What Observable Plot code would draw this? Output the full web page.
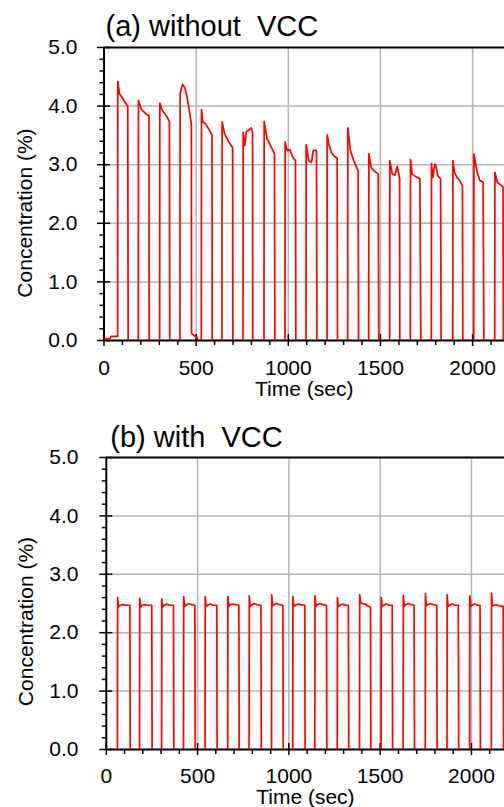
<!DOCTYPE html>
<html><head><meta charset="utf-8">
<script src="https://cdn.jsdelivr.net/npm/d3@7"></script>
<script src="https://cdn.jsdelivr.net/npm/@observablehq/plot@0.6"></script>
<style>
html,body{margin:0;padding:0;background:#fff;}
#wrap{position:relative;width:504px;height:807px;overflow:hidden;background:#fff;}
#wrap svg{position:absolute;left:0;}
</style></head><body><div id="wrap"></div>
<script>
// Panel (a) without VCC: time (sec) and concentration (%)
const timeA = [0,35,38,74,75,84,120,129,131,
 186,187,203,234,244,245,
 302,303,316,343,355,357,
 412,413,426,438,451,460,471,474,475,490,505,510,
 528,529,536,551,572,586,587,
 640,641,654,677,698,699,
 754,755,764,773,786,799,806,807,
 868,869,885,903,925,927,
 982,983,994,1008,1024,1039,1041,
 1096,1097,1111,1126,1135,1148,1153,1155,
 1210,1211,1220,1234,1247,1265,1267,
 1322,1323,1337,1355,1374,1379,1381,
 1436,1437,1450,1468,1488,1491,
 1550,1551,1564,1578,1591,1596,1604,1605,
 1662,1663,1672,1690,1714,1719,
 1776,1777,1784,1795,1800,1811,1826,1829,
 1892,1893,1902,1916,1930,1945,1947,
 2006,2007,2025,2039,2057,2061,
 2120,2121,2134,2151,2165,2167];
const concA = [0.03,0.03,0.07,0.07,4.42,4.21,4.04,3.99,0,
 0,4.10,3.94,3.85,3.84,0,
 0,4.05,3.93,3.81,3.73,0,
 0,4.21,4.37,4.32,4.15,3.98,3.76,3.70,0.12,0.08,0.05,0,
 0,3.94,3.73,3.70,3.59,3.50,0,
 0,3.73,3.53,3.39,3.29,0,
 0,3.55,3.33,3.57,3.59,3.63,3.56,0,
 0,3.74,3.44,3.33,3.19,0,
 0,3.39,3.24,3.26,3.13,3.07,0,
 0,3.34,3.07,3.04,3.24,3.25,3.23,0,
 0,3.51,3.35,3.21,3.15,3.11,0,
 0,3.63,3.24,3.07,2.93,2.89,0,
 0,3.19,2.95,2.89,2.84,0,
 0,3.07,2.84,2.82,2.97,2.90,2.76,0,
 0,3.09,2.84,2.80,2.76,0,
 0,3.02,2.78,3.01,2.99,2.81,2.76,0,
 0,3.07,2.87,2.78,2.73,2.64,0,
 0,3.18,2.87,2.73,2.70,0,
 0,2.87,2.70,2.66,2.62,0];

// Panel (b) with VCC
const timeB = [0,61,62,67,75,90,105,129,131,
 182,183,188,196,211,226,249,251,
 303,304,309,317,332,347,368,370,
 423,424,429,437,452,467,485,487,
 541,542,547,555,570,585,605,607,
 665,666,671,679,694,709,726,728,
 782,783,788,796,811,826,847,849,
 905,906,911,919,934,949,967,969,
 1021,1022,1027,1035,1050,1065,1087,1089,
 1142,1143,1148,1156,1171,1186,1206,1208,
 1265,1266,1271,1279,1294,1309,1326,1328,
 1387,1388,1393,1401,1416,1431,1447,1449,
 1505,1506,1511,1519,1534,1549,1566,1568,
 1626,1627,1632,1640,1655,1670,1686,1688,
 1747,1748,1753,1761,1776,1791,1810,1812,
 1866,1867,1872,1880,1895,1910,1928,1930,
 1990,1991,1996,2004,2019,2034,2047,2049,
 2109,2110,2115,2123,2138,2153,2174,2176];
const concB = [0,0,2.60,2.44,2.47,2.48,2.47,2.47,0,
 0,2.59,2.44,2.47,2.48,2.47,2.47,0,
 0,2.58,2.44,2.47,2.49,2.47,2.47,0,
 0,2.62,2.45,2.47,2.50,2.48,2.47,0,
 0,2.62,2.45,2.47,2.49,2.47,2.47,0,
 0,2.62,2.45,2.48,2.49,2.48,2.47,0,
 0,2.63,2.45,2.47,2.50,2.48,2.47,0,
 0,2.65,2.46,2.48,2.50,2.48,2.47,0,
 0,2.62,2.45,2.47,2.49,2.48,2.47,0,
 0,2.63,2.45,2.48,2.50,2.48,2.47,0,
 0,2.60,2.45,2.47,2.49,2.47,2.47,0,
 0,2.65,2.52,2.50,2.49,2.46,2.44,0,
 0,2.60,2.45,2.47,2.49,2.47,2.47,0,
 0,2.64,2.45,2.48,2.50,2.48,2.47,0,
 0,2.67,2.46,2.48,2.50,2.48,2.47,0,
 0,2.65,2.45,2.47,2.49,2.47,2.47,0,
 0,2.63,2.45,2.47,2.49,2.47,2.47,0,
 0,2.68,2.46,2.47,2.48,2.46,2.45,0];

const yMajorTicks = [0,1,2,3,4,5];
const yMinorTicks = [0.2,0.4,0.6,0.8,1.2,1.4,1.6,1.8,2.2,2.4,2.6,2.8,3.2,3.4,3.6,3.8,4.2,4.4,4.6,4.8];
const xMajorTicks = [0,500,1000,1500,2000];
const xMinorTicks = [100,200,300,400,600,700,800,900,1100,1200,1300,1400,1600,1700,1800,1900,2100];
const xGridTicks = [500,1000,1500,2000];
const yGridTicks = [1,2,3,4];
const titleA = "(a) without  VCC";
const titleB = "(b) with  VCC";
const xLabel = "Time (sec)";
const yLabel = "Concentration (%)";

const FONT = "'Liberation Sans', Arial, Helvetica, sans-serif";

function panel(o) {
  const svg = Plot.plot({
    width: 504,
    height: o.height,
    marginLeft: o.mLeft,
    marginRight: 0,
    marginTop: o.mTop,
    marginBottom: o.mBottom,
    x: {domain: [0, o.xMax], axis: null},
    y: {domain: [0, 5], axis: null},
    style: {fontFamily: FONT, fontSize: "21px", color: "black", background: "transparent", overflow: "visible"},
    marks: [
      Plot.gridX(xGridTicks, {stroke: "#b4b4b4", strokeOpacity: 1, strokeWidth: 1.5}),
      Plot.gridY(yGridTicks, {stroke: "#b4b4b4", strokeOpacity: 1, strokeWidth: 1.5}),
      Plot.ruleY([5], {stroke: "black", strokeWidth: 2}),
      Plot.ruleX([0], {stroke: "black", strokeWidth: 2}),
      Plot.ruleY([0], {stroke: "black", strokeWidth: 2}),
      Plot.axisY(yMinorTicks, {tickSize: 4, tickFormat: () => "", strokeWidth: 1.5, label: null}),
      Plot.axisY(yMajorTicks, {tickSize: 13, dx: 6.5, tickFormat: () => "", strokeWidth: 1.5, label: null}),
      Plot.axisY(yMajorTicks, {tickSize: 0, tickPadding: o.yTickPad, tickFormat: d => d.toFixed(1), fontSize: 21, label: null}),
      Plot.axisX(xMinorTicks, {tickSize: 5, tickFormat: () => "", strokeWidth: 1.5, label: null}),
      Plot.axisX(xMajorTicks, {tickSize: 12, dy: -6, tickFormat: () => "", strokeWidth: 1.5, label: null}),
      Plot.axisX(xMajorTicks, {tickSize: 0, tickPadding: o.xTickPad, tickFormat: d => String(d), fontSize: 21, label: null}),
      Plot.line(o.time, {x: d => d, y: o.conc, stroke: "#ff0000", strokeWidth: 1.7, clip: true}),
      Plot.text([o.title], {text: d => d, frameAnchor: "top-left", textAnchor: "start", lineAnchor: "bottom", dx: o.titleDx, dy: o.titleDy, fontSize: 29, fill: "black"}),
      Plot.text([yLabel], {text: d => d, frameAnchor: "left", rotate: -90, textAnchor: "middle", lineAnchor: "middle", dx: o.yLabDx, dy: o.yLabDy, fontSize: 21, fill: "black"}),
      Plot.text([xLabel], {text: d => d, frameAnchor: "bottom", textAnchor: "middle", lineAnchor: "top", dy: o.xLabDy, fontSize: 21, fill: "black"})
    ]
  });
  svg.style.top = o.top + "px";
  document.getElementById("wrap").appendChild(svg);
}

panel({time: timeA, conc: concA, title: titleA, top: 0, height: 400, mTop: 47, mBottom: 60, mLeft: 103.5, xMax: 2173,
  titleDx: 1.5, titleDy: -12, yLabDx: -79, yLabDy: 19, xLabDy: 41, xTickPad: 20, yTickPad: 26.5});
panel({time: timeB, conc: concB, title: titleB, top: 400, height: 407, mTop: 57, mBottom: 58, mLeft: 105.8, xMax: 2181,
  titleDx: 4, titleDy: -11, yLabDx: -80.5, yLabDy: 18, xLabDy: 40, xTickPad: 19, yTickPad: 27.8});
</script></body></html>
